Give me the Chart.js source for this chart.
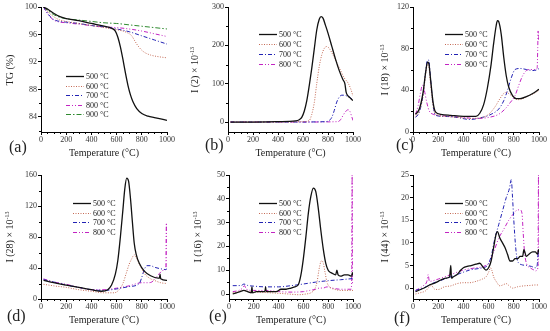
<!DOCTYPE html>
<html>
<head>
<meta charset="utf-8">
<title>TG-MS</title>
<script src="https://cdn.jsdelivr.net/npm/chart.js@4.4.1/dist/chart.umd.min.js"></script>
<style>
  html, body { margin: 0; padding: 0; background: #fff; }
  #fig { position: relative; width: 550px; height: 331px; overflow: hidden; font-family: "Liberation Serif", "Times New Roman", serif; color: #222; }
  #fig canvas { position: absolute; }
  .xt, .yt, .tag { position: absolute; white-space: nowrap; line-height: 1; }
  .xt { font-size: 10px; transform: translate(-50%, -50%); }
  .yt { font-size: 10px; transform: translate(-50%, -50%) rotate(-90deg); }
  .yt sup { font-size: 6px; vertical-align: 4px; line-height: 0; }
  .tag { font-size: 16px; transform: translateY(-50%); }
</style>
</head>
<body>
<div id="fig"></div>
<script>
// ---- data ----
var xTicks = [0, 200, 400, 600, 800, 1000];
var xMinor = [50, 100, 150, 250, 300, 350, 450, 500, 550, 650, 700, 750, 850, 900, 950];

// (a) TG
var aTicks = [84, 88, 92, 96, 100];
var aT500 = [20, 60, 100, 150, 200, 300, 400, 500, 560, 590, 610, 630, 650, 670, 690, 710, 730, 760, 800, 850, 900, 950, 1000];
var aV500 = [100, 99.6, 99.1, 98.6, 98.3, 98.0, 97.6, 97.2, 96.9, 96.5, 95.6, 94.2, 92.4, 90.4, 88.6, 87.2, 86.2, 85.2, 84.5, 84.1, 83.9, 83.7, 83.5];
var aT600 = [20, 60, 100, 150, 200, 300, 400, 500, 600, 680, 720, 740, 760, 780, 800, 830, 870, 920, 1000];
var aV600 = [100, 99.2, 98.6, 98.1, 97.9, 97.6, 97.3, 97.0, 96.7, 96.3, 95.8, 95.2, 94.6, 94.1, 93.7, 93.3, 93.0, 92.8, 92.6];
var aT700 = [20, 60, 100, 150, 200, 300, 400, 500, 600, 700, 800, 900, 1000];
var aV700 = [100, 98.9, 98.2, 97.9, 97.8, 97.6, 97.3, 97.1, 96.8, 96.4, 95.8, 95.2, 94.6];
var aT800 = [20, 60, 100, 150, 200, 300, 400, 500, 600, 700, 800, 900, 1000];
var aV800 = [100, 98.8, 98.1, 97.8, 97.7, 97.5, 97.3, 97.1, 97.0, 96.8, 96.5, 96.1, 95.7];
var aT900 = [20, 60, 100, 150, 200, 300, 400, 500, 600, 700, 800, 900, 1000];
var aV900 = [100, 99.4, 98.9, 98.5, 98.3, 98.1, 97.9, 97.7, 97.6, 97.4, 97.2, 97.0, 96.8];

// (b) I(2)
var bTicks = [0, 100, 200, 300];
var bT500 = [20, 200, 400, 540, 570, 590, 610, 630, 650, 670, 690, 710, 730, 745, 760, 780, 800, 830, 860, 890, 920, 935, 945, 960, 980, 1000];
var bV500 = [0, 0, 1, 3, 6, 12, 28, 55, 95, 140, 190, 240, 268, 275, 271, 252, 232, 198, 164, 134, 110, 100, 78, 68, 62, 56];
var bT600 = [20, 400, 600, 650, 670, 690, 710, 730, 750, 770, 790, 810, 840, 870, 900, 930, 960, 980, 1000];
var bV600 = [0, 0, 1, 4, 20, 50, 100, 145, 175, 192, 197, 192, 175, 155, 135, 115, 102, 88, 68];
var bT700 = [20, 500, 780, 810, 830, 850, 870, 890, 910, 930, 950, 970, 990, 1000];
var bV700 = [0, 0, 1, 4, 12, 30, 52, 65, 70, 70, 68, 66, 60, 56];
var bT800 = [20, 600, 880, 900, 920, 940, 960, 975, 990, 1000];
var bV800 = [0, 0, 1, 6, 17, 27, 32, 28, 14, 4];

// (c) I(18)
var cTicks = [0, 40, 80, 120];
var cT500 = [20, 50, 80, 100, 115, 125, 140, 160, 180, 220, 300, 400, 500, 530, 560, 590, 620, 640, 660, 670, 680, 700, 720, 740, 760, 790, 820, 850, 900, 950, 1000];
var cV500 = [17, 22, 38, 57, 67, 66, 50, 28, 19, 17, 16, 15, 15, 18, 26, 42, 65, 85, 102, 107, 106, 94, 72, 54, 43, 35, 32, 32, 34, 37, 41];
var cT600 = [20, 50, 80, 100, 115, 125, 140, 160, 180, 250, 350, 450, 550, 600, 650, 690, 720, 740, 770, 800, 830, 870, 920, 960, 1000];
var cV600 = [15, 20, 35, 55, 65, 63, 45, 25, 17, 15, 14, 13, 14, 17, 24, 32, 37, 38, 36, 33, 31, 32, 35, 37, 40];
var cT700 = [20, 50, 80, 100, 115, 125, 140, 160, 180, 250, 350, 450, 550, 620, 680, 720, 750, 780, 810, 850, 900, 950, 990, 1000];
var cV700 = [14, 19, 36, 58, 69, 69, 50, 25, 16, 15, 14, 12, 14, 17, 22, 30, 40, 52, 60, 61, 60, 59, 60, 61];
var cT800 = [20, 40, 60, 75, 90, 110, 130, 160, 200, 300, 400, 500, 600, 680, 730, 770, 810, 840, 870, 900, 930, 960, 985, 990, 993, 997, 1000];
var cV800 = [17, 25, 38, 45, 40, 28, 20, 17, 16, 15, 14, 13, 14, 17, 22, 28, 35, 45, 54, 59, 60, 60, 61, 80, 97, 88, 95];

// (d) I(28)
var dTicks = [0, 40, 80, 120, 160];
var dT500 = [20, 100, 200, 300, 400, 480, 530, 560, 590, 610, 630, 650, 665, 680, 695, 710, 725, 740, 755, 780, 820, 870, 930, 940, 945, 950, 1000];
var dV500 = [24, 21, 18, 15, 12, 10, 12, 18, 32, 50, 80, 115, 142, 156, 152, 130, 100, 72, 58, 46, 36, 30, 27, 27, 32, 26, 24];
var dT600 = [20, 100, 200, 300, 400, 500, 580, 620, 650, 680, 700, 720, 740, 760, 790, 820, 860, 900, 950, 1000];
var dV600 = [19, 17, 15, 12, 10, 8, 8, 12, 20, 35, 45, 52, 57, 52, 42, 33, 27, 24, 21, 20];
var dT700 = [20, 100, 200, 300, 400, 500, 600, 700, 780, 800, 820, 840, 870, 900, 950, 990, 1000];
var dV700 = [25, 22, 18, 15, 12, 11, 13, 16, 20, 28, 38, 43, 43, 41, 39, 38, 39];
var dT800 = [20, 100, 200, 300, 400, 500, 600, 700, 800, 850, 880, 910, 940, 970, 990, 995, 1000];
var dV800 = [26, 22, 19, 15, 12, 12, 14, 17, 21, 21, 22, 27, 33, 37, 38, 98, 40];

// (e) I(16)
var eTicks = [0, 10, 20, 30, 40, 50];
var eT500 = [30, 60, 90, 120, 150, 180, 185, 190, 220, 260, 290, 295, 300, 340, 380, 420, 460, 500, 530, 560, 580, 600, 620, 640, 660, 680, 700, 720, 740, 760, 780, 800, 820, 840, 860, 870, 880, 900, 930, 960, 990, 995, 1000];
var eV500 = [0, 0.5, 1, 1.5, 1, 0.5, 3, 0.5, 1, 1, 1, 3, 1, 1, 1, 2, 2, 2.5, 3, 4, 8, 15, 24, 34, 41, 44.5, 43, 36, 27, 19, 13, 10, 9, 8.5, 8, 10, 8, 7.5, 8, 8, 7.5, 9, 8];
var eT600 = [30, 80, 120, 160, 220, 300, 400, 480, 560, 620, 660, 690, 710, 725, 740, 750, 760, 775, 790, 810, 850, 900, 950, 1000];
var eV600 = [0.5, 1, 1.5, 1, 0.8, 0.6, 0.3, 0, -0.3, 0, 0.5, 2, 5, 10, 13.5, 14, 13, 9, 5, 3, 2, 1.5, 1.5, 1.5];
var eT700 = [30, 100, 120, 150, 200, 300, 400, 500, 600, 700, 800, 900, 1000];
var eV700 = [3.5, 3.6, 4.2, 3.6, 3.3, 3, 3, 3.5, 4.2, 5, 5.6, 6, 6.5];
var eT800 = [30, 80, 110, 125, 140, 200, 300, 400, 500, 600, 650, 700, 730, 760, 790, 810, 850, 900, 950, 985, 990, 993, 996, 1000];
var eV800 = [1, 1.5, 2.5, 3.5, 2, 1.5, 1.5, 1, 0.8, 1, 1.5, 2, 2.5, 2.5, 3, 2.8, 2.3, 2, 2, 2, 10, 50, 5, 4];

// (f) I(44)
var fTicks = [0, 5, 10, 15, 20, 25];
var fT500 = [20, 60, 100, 140, 180, 220, 260, 290, 300, 305, 320, 350, 380, 400, 430, 460, 500, 530, 560, 580, 600, 620, 640, 660, 670, 690, 710, 730, 750, 770, 790, 810, 830, 850, 870, 880, 900, 920, 950, 970, 990, 995, 1000];
var fV500 = [-0.8, -0.3, 0.2, 0.8, 1.2, 1.8, 2.2, 2.5, 5, 2.2, 2.5, 3, 4, 4.5, 4.8, 5, 5.3, 5.5, 4.5, 4, 4.5, 6, 9, 12, 12.5, 11, 10, 9, 7.5, 6, 6, 6.5, 6.5, 7, 7, 8.5, 7, 7.5, 8, 8, 7.5, 8.5, 8];
var fT600 = [20, 60, 100, 130, 145, 170, 200, 250, 300, 350, 400, 450, 500, 550, 580, 600, 615, 625, 640, 660, 690, 720, 740, 760, 790, 830, 880, 930, 970, 1000];
var fV600 = [-1.3, -1, -0.6, 0.3, 0.6, -0.2, -0.3, 0.3, 0.5, 1, 1.2, 1.2, 1.5, 2, 2.5, 3.5, 4.5, 4, 2.5, 1.5, 0.5, 0.8, 1, 0.6, 0, 0.3, 0.5, 0.6, 0.7, 0.7];
var fT700 = [20, 80, 150, 250, 350, 450, 550, 590, 620, 650, 680, 710, 740, 765, 780, 790, 800, 815, 830, 860, 900, 940, 970, 985, 995, 1000];
var fV700 = [-0.5, 0, 1, 2, 3, 4, 4.5, 5, 7, 11, 14, 17, 20, 22, 24, 20, 15, 9, 6, 5.2, 5, 4.8, 4.5, 5, 8, 7];
var fT800 = [20, 80, 110, 120, 130, 200, 300, 400, 500, 560, 600, 640, 680, 720, 760, 800, 830, 850, 865, 875, 885, 900, 930, 960, 975, 985, 992, 996, 1000];
var fV800 = [-0.5, 0.5, 1.5, 3, 1.5, 2, 3, 4, 4.5, 4.8, 5.5, 8, 11, 13, 15, 16.5, 17.3, 17.3, 16.5, 12, 8, 5.5, 4.5, 4, 3.8, 4, 5, 25, 5];

(function () {
  "use strict";

  var FONT = "'Liberation Serif', 'Times New Roman', serif";

  var styles = {
    "500": { color: "#111111", dash: [], width: 1.3 },
    "600": { color: "#c46a55", dash: [1, 1.5], width: 1 },
    "700": { color: "#2222b4", dash: [4, 2, 1, 2], width: 1 },
    "800": { color: "#c224c2", dash: [4, 2, 1, 2, 1, 2], width: 1 },
    "900": { color: "#2f8a2f", dash: [5, 2, 1.5, 2], width: 1 }
  };

  var panels = [
    { tag: "(a)", left: 0, top: 0, w: 183, h: 165, yw: 41, padTop: 7, padRight: 16, xh: 33,
      yMin: 81.8, yMax: 100, yTicks: aTicks, yMinor: [82, 86, 90, 94, 98],
      yTitle: "TG (%)", yTitleX: 10, tagX: 9, tagY: 147, legend: { x: 66, y: 76, gap: 9.6 },
      series: [["500", aT500, aV500], ["600", aT600, aV600], ["700", aT700, aV700], ["800", aT800, aV800], ["900", aT900, aV900]] },
    { tag: "(b)", left: 183, top: 0, w: 183, h: 165, yw: 45, padTop: 7, padRight: 13, xh: 33,
      yMin: -26, yMax: 300, yTicks: bTicks, yMinor: [50, 150, 250],
      yTitle: "I (2) × 10<sup>-13</sup>", yTitleX: 195, tagX: 205, tagY: 145, legend: { x: 259, y: 34, gap: 10 },
      series: [["500", bT500, bV500], ["600", bT600, bV600], ["700", bT700, bV700], ["800", bT800, bV800]] },
    { tag: "(c)", left: 366, top: 0, w: 184, h: 165, yw: 47, padTop: 7, padRight: 11, xh: 33,
      yMin: 0, yMax: 120, yTicks: cTicks, yMinor: [20, 60, 100],
      yTitle: "I (18) × 10<sup>-13</sup>", yTitleX: 385, tagX: 396, tagY: 145, legend: { x: 445, y: 34, gap: 10 },
      series: [["500", cT500, cV500], ["600", cT600, cV600], ["700", cT700, cV700], ["800", cT800, cV800]] },
    { tag: "(d)", left: 0, top: 165, w: 183, h: 166, yw: 41, padTop: 10, padRight: 16, xh: 32,
      yMin: 0, yMax: 160, yTicks: dTicks, yMinor: [20, 60, 100, 140],
      yTitle: "I (28) × 10<sup>-13</sup>", yTitleX: 10, tagX: 7, tagY: 316, legend: { x: 73, y: 203, gap: 9.7 },
      series: [["500", dT500, dV500], ["600", dT600, dV600], ["700", dT700, dV700], ["800", dT800, dV800]] },
    { tag: "(e)", left: 183, top: 165, w: 183, h: 166, yw: 46, padTop: 10, padRight: 13, xh: 32,
      yMin: -2.1, yMax: 50, yTicks: eTicks, yMinor: [5, 15, 25, 35, 45],
      yTitle: "I (16) × 10<sup>-13</sup>", yTitleX: 198, tagX: 209, tagY: 316, legend: { x: 259, y: 203, gap: 9.7 },
      series: [["500", eT500, eV500], ["600", eT600, eV600], ["700", eT700, eV700], ["800", eT800, eV800]] },
    { tag: "(f)", left: 366, top: 165, w: 184, h: 166, yw: 47, padTop: 10, padRight: 11, xh: 32,
      yMin: -2.4, yMax: 25, yTicks: fTicks, yMinor: [2.5, 7.5, 12.5, 17.5, 22.5],
      yTitle: "I (44) × 10<sup>-13</sup>", yTitleX: 385, tagX: 394, tagY: 318, legend: { x: 445, y: 203, gap: 9.7 },
      series: [["500", fT500, fV500], ["600", fT600, fV600], ["700", fT700, fV700], ["800", fT800, fV800]] }
  ];

  // short outward minor ticks (Chart.js has none of its own)
  var minorTicks = {
    id: "minorTicks",
    afterDraw: function (chart, args, opts) {
      var ctx = chart.ctx, xs = chart.scales.x, ys = chart.scales.y;
      ctx.save();
      ctx.strokeStyle = "#000";
      ctx.lineWidth = 1;
      ctx.beginPath();
      (opts.x || []).forEach(function (v) {
        var p = Math.round(xs.getPixelForValue(v)) + 0.5;
        ctx.moveTo(p, xs.top);
        ctx.lineTo(p, xs.top + 2);
      });
      (opts.y || []).forEach(function (v) {
        if (v < ys.min || v > ys.max) return;
        var p = Math.round(ys.getPixelForValue(v)) + 0.5;
        ctx.moveTo(ys.right, p);
        ctx.lineTo(ys.right - 2, p);
      });
      ctx.stroke();
      ctx.restore();
    }
  };

  // legend drawn inside the plot, one row per dataset
  var lineLegend = {
    id: "lineLegend",
    afterDraw: function (chart, args, opts) {
      var ctx = chart.ctx;
      ctx.save();
      ctx.font = "8px " + FONT;
      ctx.textBaseline = "middle";
      chart.data.datasets.forEach(function (ds, i) {
        var y = Math.round(opts.y + i * opts.gap) + 0.5;
        ctx.strokeStyle = ds.borderColor;
        ctx.lineWidth = ds.borderWidth;
        ctx.setLineDash(ds.borderDash || []);
        ctx.beginPath();
        ctx.moveTo(opts.x, y);
        ctx.lineTo(opts.x + 18, y);
        ctx.stroke();
        ctx.setLineDash([]);
        ctx.fillStyle = "#222";
        ctx.fillText(ds.label, opts.x + 20, y);
      });
      ctx.restore();
    }
  };

  function addText(cls, html, x, y) {
    var el = document.createElement("div");
    el.className = cls;
    el.innerHTML = html;
    el.style.left = x + "px";
    el.style.top = y + "px";
    document.getElementById("fig").appendChild(el);
  }

  function makeDataset(s) {
    var st = styles[s[0]];
    return {
      label: s[0] + " °C",
      data: s[1].map(function (t, i) { return { x: t, y: s[2][i] }; }),
      borderColor: st.color,
      borderDash: st.dash,
      borderWidth: st.width,
      pointRadius: 0,
      cubicInterpolationMode: "monotone",
      fill: false
    };
  }

  function axisBase() {
    return {
      type: "linear",
      grid: { drawOnChartArea: false, tickLength: 3, tickColor: "#000", color: "#000" },
      border: { display: true, color: "#000", width: 1 },
      ticks: {
        font: { family: FONT, size: 8 },
        color: "#333",
        autoSkip: false,
        maxRotation: 0,
        callback: function (v) { return String(v); }
      }
    };
  }

  function drawPanel(p) {
    var canvas = document.createElement("canvas");
    canvas.width = p.w;
    canvas.height = p.h;
    canvas.style.left = p.left + "px";
    canvas.style.top = p.top + "px";
    document.getElementById("fig").appendChild(canvas);

    var x = axisBase();
    x.min = 0;
    x.max = 1000;
    x.ticks.padding = 0;
    x.afterBuildTicks = function (s) { s.ticks = xTicks.map(function (v) { return { value: v }; }); };
    x.afterFit = function (s) { s.height = p.xh; };

    var y = axisBase();
    y.min = p.yMin;
    y.max = p.yMax;
    y.ticks.padding = 1;
    y.afterBuildTicks = function (s) { s.ticks = p.yTicks.map(function (v) { return { value: v }; }); };
    y.afterFit = function (s) { s.width = p.yw; };

    new Chart(canvas, {
      type: "line",
      data: { datasets: p.series.map(makeDataset) },
      options: {
        responsive: false,
        animation: false,
        devicePixelRatio: 1,
        layout: { padding: { top: p.padTop, right: p.padRight, left: 0, bottom: 0 } },
        plugins: {
          legend: { display: false },
          tooltip: { enabled: false },
          minorTicks: { x: xMinor, y: p.yMinor },
          lineLegend: { x: p.legend.x - p.left, y: p.legend.y - p.top, gap: p.legend.gap }
        },
        scales: { x: x, y: y }
      },
      plugins: [minorTicks, lineLegend]
    });

    var plotLeft = p.left + p.yw;
    var plotRight = p.left + p.w - p.padRight;
    var plotTop = p.top + p.padTop;
    var plotBottom = p.top + p.h - p.xh;
    addText("xt", "Temperature (°C)", (plotLeft + plotRight) / 2, plotBottom + 21);
    addText("yt", p.yTitle, p.yTitleX, (plotTop + plotBottom) / 2);
    addText("tag", p.tag, p.tagX, p.tagY);
  }

  panels.forEach(drawPanel);
})();
</script>
</body>
</html>
